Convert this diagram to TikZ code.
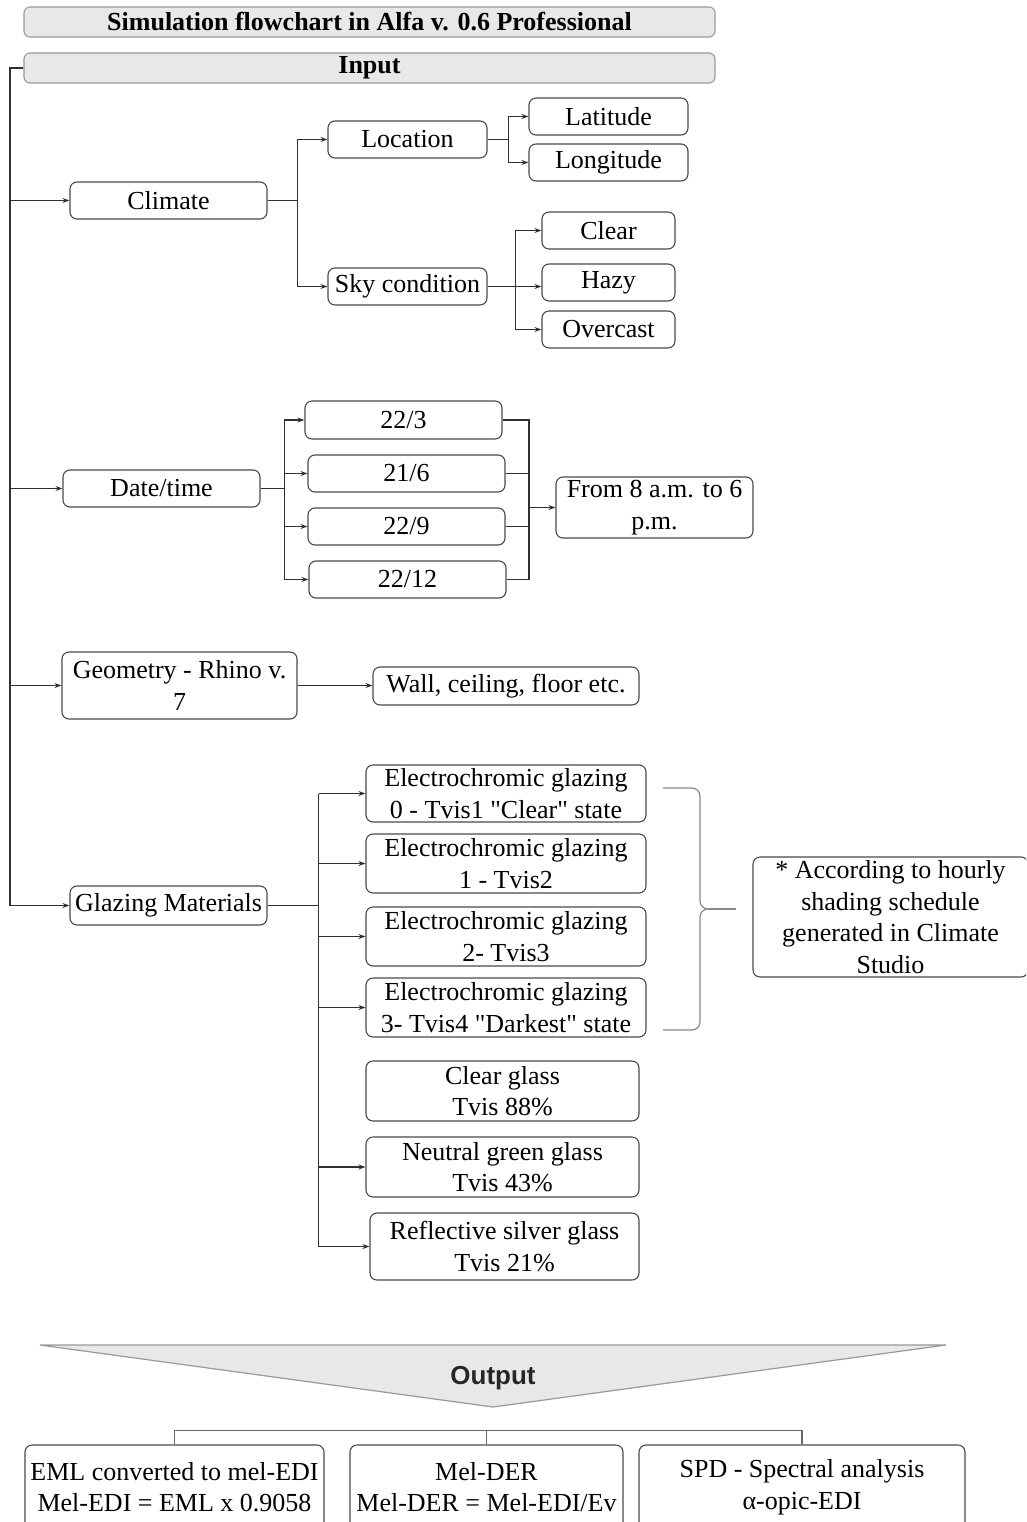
\documentclass[tikz,border=0pt]{standalone}
\usepackage{fontspec}
\setmainfont{Liberation Serif}
\newfontfamily\outfont{Liberation Sans}
\usetikzlibrary{arrows.meta}
\definecolor{boxline}{HTML}{4A4A4A}
\definecolor{wire}{HTML}{303030}
\definecolor{headfill}{HTML}{E8E8E8}
\definecolor{headline}{HTML}{999999}
\definecolor{bracecol}{HTML}{8A8A8A}
\tikzset{
  box/.style={draw=boxline, line width=1.1pt, rounded corners=7pt, fill=white,
    inner sep=0pt, align=center, font=\fontsize{26}{31.5}\selectfont},
  headbox/.style={draw=headline, line width=1.1pt, rounded corners=6pt, fill=headfill,
    inner sep=0pt, align=center, font=\bfseries\fontsize{26}{30}\selectfont,
    minimum width=691pt, minimum height=30pt},
  wirel/.style={draw=wire, line width=1.2pt},
  arr/.style={wirel, -{Stealth[length=7pt,width=5pt]}},
  bracket/.style={draw=bracecol, line width=1.2pt},
}
\begin{document}
\begin{tikzpicture}[x=1pt,y=-1pt]
\useasboundingbox (0,0) rectangle (1026,1522);
\clip (0,0) rectangle (1026,1522);
\fill[white] (0,0) rectangle (1026,1522);

% header
\node[headbox] (title) at (369.5,22) {Simulation flowchart in Alfa v. 0.6 Professional};
\node[headbox] (input) at (369.5,68) {Input};

% climate branch
\node[box, minimum width=197pt, minimum height=37pt] (climate) at (168.5,200.5) {Climate};
\node[box, minimum width=159pt, minimum height=37pt] (location) at (407.5,139.5) {Location};
\node[box, minimum width=159pt, minimum height=37pt] (sky) at (407.5,286.5) {Sky condition};
\node[box, minimum width=159pt, minimum height=37pt] (lat) at (608.5,116.5) {Latitude};
\node[box, minimum width=159pt, minimum height=37pt] (lon) at (608.5,162.5) {Longitude};
\node[box, minimum width=133pt, minimum height=37pt] (clear) at (608.5,230.5) {Clear};
\node[box, minimum width=133pt, minimum height=37pt] (hazy) at (608.5,282.5) {Hazy};
\node[box, minimum width=133pt, minimum height=37pt] (overcast) at (608.5,329.5) {Overcast};

% date branch
\node[box, minimum width=197pt, minimum height=37pt] (date) at (161.5,488.5) {Date/time};
\node[box, minimum width=197pt, minimum height=38pt] (d1) at (403.5,420) {22/3};
\node[box, minimum width=197pt, minimum height=37pt] (d2) at (406.5,473.5) {21/6};
\node[box, minimum width=197pt, minimum height=37pt] (d3) at (406.5,526.5) {22/9};
\node[box, minimum width=197pt, minimum height=37pt] (d4) at (407.5,579.5) {22/12};
\node[box, minimum width=197pt, minimum height=61pt] (from) at (654.5,507.5) {From 8 a.m. to 6\\p.m.};

% geometry
\node[box, minimum width=235pt, minimum height=67pt] (geo) at (179.5,685.5) {Geometry - Rhino v.\\7};
\node[box, minimum width=266pt, minimum height=38pt] (wall) at (506,686) {Wall, ceiling, floor etc.};

% glazing
\node[box, minimum width=197pt, minimum height=39pt] (glazing) at (168.5,905.5) {Glazing Materials};
\node[box, minimum width=280pt, minimum height=57pt] (ec0) at (506,793.5) {Electrochromic glazing\\0 - Tvis1 \textquotedbl Clear\textquotedbl{} state};
\node[box, minimum width=280pt, minimum height=59pt] (ec1) at (506,863.5) {Electrochromic glazing\\1 - Tvis2};
\node[box, minimum width=280pt, minimum height=59pt] (ec2) at (506,936.5) {Electrochromic glazing\\2- Tvis3};
\node[box, minimum width=280pt, minimum height=59pt] (ec3) at (506,1007.5) {Electrochromic glazing\\3- Tvis4 \textquotedbl Darkest\textquotedbl{} state};
\node[box, minimum width=273pt, minimum height=60pt] (cg) at (502.5,1091) {Clear glass\\Tvis 88\%};
\node[box, minimum width=273pt, minimum height=60pt] (ng) at (502.5,1167) {Neutral green glass\\Tvis 43\%};
\node[box, minimum width=269pt, minimum height=67pt] (rs) at (504.5,1246.5) {Reflective silver glass\\Tvis 21\%};
\node[box, minimum width=275pt, minimum height=120pt] (note) at (890.5,917) {* According to hourly\\shading schedule\\generated in Climate\\Studio};

% output
\draw[draw=headline, line width=1.2pt, fill=headfill] (40,1345) -- (946,1345) -- (493,1407) -- cycle;
\node[font=\outfont\bfseries\fontsize{26}{30}\selectfont, text=black!85] (output) at (493,1378) {Output};
\node[box, minimum width=299pt, minimum height=84pt] (eml) at (174.5,1487) {EML converted to mel-EDI\\Mel-EDI = EML x 0.9058};
\node[box, minimum width=273pt, minimum height=84pt] (mel) at (486.5,1487) {Mel-DER\\Mel-DER = Mel-EDI/Ev};
\node[box, minimum width=326pt, minimum height=84pt] (spd) at (802,1487) {SPD - Spectral analysis\\α-opic-EDI};

% trunk
\coordinate (tr) at (10,68);
\coordinate (trend) at (10,905.5);
\draw[wirel] (input.west) -- (tr) -- (trend);
\draw[arr] (tr |- climate) -- (climate);
\draw[arr] (tr |- date) -- (date);
\draw[arr] (tr |- geo) -- (geo);
\draw[arr] (trend) -- (glazing);

% climate forks
\draw[wirel] (climate.east) -- ++(30,0) coordinate (cj);
\draw[arr] (cj) |- (location.west);
\draw[arr] (cj) |- (sky.west);
\draw[wirel] (location.east) -- ++(21,0) coordinate (lj);
\draw[arr] (lj) |- (lat.west);
\draw[arr] (lj) |- (lon.west);
\draw[wirel] (sky.east) -- ++(28,0) coordinate (sj);
\draw[arr] (sj) |- (clear.west);
\draw[arr] (sj) -- (hazy.west |- sj);
\draw[arr] (sj) |- (overcast.west);

% date forks
\draw[wirel] (date.east) -- ++(24,0) coordinate (dj);
\draw[arr] (dj) |- (d1.west);
\draw[arr] (dj) |- (d2.west);
\draw[arr] (dj) |- (d3.west);
\draw[arr] (dj) |- (d4.west);
\coordinate (mj) at (529,507.5);
\draw[wirel] (d1.east) -| (mj);
\draw[wirel] (d2.east) -| (mj);
\draw[wirel] (d3.east) -| (mj);
\draw[wirel] (d4.east) -| (mj);
\draw[arr] (mj) -- (from.west);

% geometry
\draw[arr] (geo.east) -- (wall.west |- geo.east);

% glazing forks
\draw[wirel] (glazing.east) -- ++(51,0) coordinate (gj);
\draw[wirel] (gj |- ec0) -- (gj |- rs);
\draw[arr] (gj |- ec0) -- (ec0.west);
\draw[arr] (gj |- ec1) -- (ec1.west);
\draw[arr] (gj |- ec2) -- (ec2.west);
\draw[arr] (gj |- ec3) -- (ec3.west);
\draw[arr] (gj |- ng) -- (ng.west);
\draw[arr] (gj |- rs) -- (rs.west);

% bracket
\draw[bracket] (663,788) -- (692,788) to[out=0,in=90] (700,796) -- (700,901)
  to[out=-90,in=180] (708,909) to[out=180,in=90] (700,917) -- (700,1022)
  to[out=-90,in=0] (692,1030) -- (663,1030);
\coordinate (brtip) at (708,909);
\coordinate (brend) at (736,909);
\draw[bracket] (brtip) -- (brend);

% output connectors
\draw[wirel, draw=black!60] (eml.north) -- ++(0,-14) -| (spd.north);
\draw[wirel, draw=black!60] (mel.north) -- ++(0,-14);
\end{tikzpicture}
\end{document}
